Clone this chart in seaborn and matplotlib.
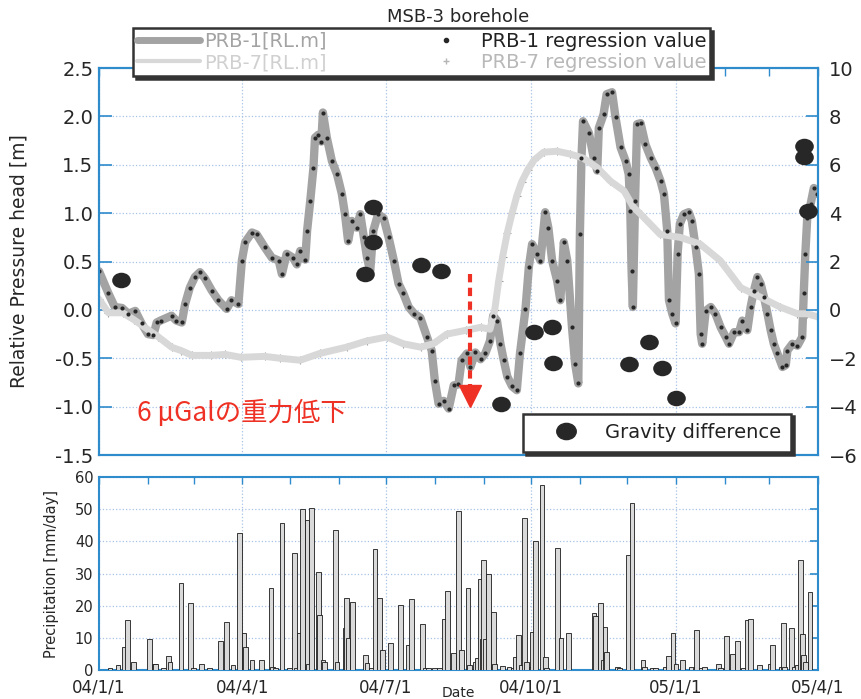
import numpy as np
import pandas as pd
import matplotlib
matplotlib.use("Agg")
import matplotlib.pyplot as plt
import matplotlib.dates as mdates
from matplotlib.lines import Line2D
from matplotlib.path import Path
from matplotlib.ticker import FuncFormatter
import seaborn as sns

START = pd.Timestamp("2004-01-01")
END = pd.Timestamp("2005-04-01")

# PRB-1 pressure head [m], day offsets from 2004-01-01
prb1_day = [0, 6, 10, 14.6, 18.6, 23, 27, 31, 34.5, 36.6, 39, 46, 49, 52.5, 54.6, 57.6,
            60.8, 64, 67, 71.5, 75.7, 81, 84, 88.4, 90.6, 92.7, 97, 100, 105, 109.6, 114,
            116, 119, 123, 125.5, 127.6, 130.8, 132, 134, 136, 137, 139, 141, 142, 144.5,
            147.7, 151, 154, 156, 158, 160.4, 163.5, 165.7, 168, 170, 172, 174, 177, 180.5,
            183.7, 187, 190, 193, 196.4, 200, 203.8, 208, 211, 213, 215.4, 218.6, 221.8,
            225, 228, 230, 233.4, 235.6, 238.7, 242, 245, 248, 250, 252.4, 254.6, 256.7,
            259, 262, 265, 267, 270.5, 272.6, 274.7, 278, 280, 283, 285, 287.4, 290.6,
            292.6, 294.8, 297, 300, 302, 304, 305, 306, 307, 310.7, 313.8, 316, 317, 320,
            322, 325.4, 327.6, 330.8, 334, 336, 337, 337.8, 338.6, 340, 341.3, 343.5,
            346.6, 350, 353, 356.2, 358.3, 360.4, 361.5, 363.6, 365.7, 367, 368.4, 371,
            374, 376, 378.4, 380.5, 381.6, 382.6, 384.8, 388, 391, 394.3, 397.5, 399.6,
            402.8, 406, 408, 411.2, 413.3, 415.4, 417.6, 419.7, 421.8, 424, 426, 428,
            430.3, 433.5, 435.6, 436.6, 439.8, 443, 446, 447, 448, 449.2, 451.3, 453.4,
            455.6]
prb1_val = [0.40, 0.17, 0.03, 0.02, -0.04, -0.01, -0.14, -0.25, -0.26, -0.13, -0.11, -0.06,
            -0.11, -0.13, 0.06, 0.23, 0.34, 0.39, 0.33, 0.20, 0.10, 0.01, 0.10, 0.06, 0.51,
            0.70, 0.80, 0.78, 0.65, 0.54, 0.51, 0.37, 0.58, 0.54, 0.47, 0.61, 0.52, 0.82,
            1.13, 1.47, 1.78, 1.81, 1.74, 2.04, 1.78, 1.54, 1.40, 1.20, 0.99, 0.71, 0.92,
            0.85, 0.99, 0.75, 0.54, 0.40, 0.82, 0.99, 0.95, 0.75, 0.51, 0.27, 0.17, 0.03,
            -0.04, -0.08, -0.28, -0.42, -0.73, -0.97, -0.94, -1.02, -0.78, -0.77, -0.52,
            -0.45, -0.59, -0.44, -0.51, -0.45, -0.32, -0.06, -0.11, -0.35, -0.52, -0.69,
            -0.79, -0.83, -0.45, 0.01, 0.44, 0.68, 0.58, 0.51, 1.01, 0.85, 0.51, 0.30, 0.10,
            0.70, 0.51, -0.18, -0.56, -0.76, 0.78, 1.57, 1.95, 1.83, 1.57, 1.44, 1.88, 2.02,
            2.23, 2.25, 1.99, 1.68, 1.54, 1.40, 1.02, 0.40, 0.03, 1.13, 1.92, 1.93, 1.71,
            1.57, 1.47, 1.33, 1.20, 0.82, 0.10, -0.04, -0.14, 0.58, 0.89, 0.99, 1.01, 0.92,
            0.65, 0.37, -0.25, -0.35, -0.01, 0.03, -0.04, -0.18, -0.28, -0.35, -0.23, -0.23,
            -0.11, -0.21, 0.03, 0.20, 0.34, 0.27, 0.13, -0.04, -0.21, -0.35, -0.45, -0.59,
            -0.57, -0.42, -0.35, -0.37, -0.28, 0.17, 0.58, 0.95, 1.09, 1.26, 1.20]

# PRB-7 pressure head [m]
prb7_day = [0, 6, 15, 22, 29, 37.7, 46, 52, 59, 71, 80, 90, 105, 115, 127.6, 140, 157, 170,
            182.6, 193, 204, 212, 220.6, 233, 242, 248, 251, 253.5, 256, 259, 262, 265, 268,
            272, 276, 282, 290.6, 299, 307, 316, 324.4, 333, 339, 343.5, 356, 368.6, 381.3,
            394, 407, 419.7, 432, 443, 449, 455.6]
prb7_val = [0.11, -0.03, -0.03, -0.10, -0.18, -0.28, -0.385, -0.42, -0.47, -0.47, -0.46,
            -0.49, -0.48, -0.50, -0.52, -0.45, -0.385, -0.32, -0.28, -0.35, -0.385, -0.35,
            -0.25, -0.21, -0.18, -0.20, 0.0, 0.30, 0.55, 0.80, 1.00, 1.18, 1.32, 1.45, 1.55,
            1.63, 1.64, 1.61, 1.57, 1.47, 1.33, 1.23, 1.06, 0.99, 0.78, 0.75, 0.68, 0.51,
            0.23, 0.13, 0.03, -0.04, -0.04, -0.07]

# gravity difference [uGal], right axis
grav_day = [14, 169, 174, 174, 204, 217, 255, 276, 287, 288, 336, 349, 357, 366, 447, 447, 450]
grav_val = [1.25, 1.48, 4.27, 2.79, 1.87, 1.59, -3.88, -0.92, -0.72, -2.2, -2.23, -1.34,
            -2.39, -3.63, 6.78, 6.32, 4.09]

# daily precipitation [mm/day]
rain_day = [7, 12, 16, 18, 22, 32, 35, 36, 41, 44, 45, 52, 58, 60, 65, 70, 77, 81, 85, 89,
            92, 93, 97, 103, 109, 110, 112, 116, 121, 124, 125, 127, 129, 132, 133, 135, 139,
            140, 142, 143, 150, 151, 156, 157, 158, 161, 169, 170, 173, 175, 178, 180, 185,
            191, 196, 198, 205, 207, 209, 213, 216, 219, 221, 225, 228, 230, 234, 235, 239,
            240, 242, 243, 244, 245, 247, 250, 251, 256, 260, 263, 264, 266, 268, 270, 271,
            274, 275, 277, 281, 283, 284, 291, 293, 298, 314, 315, 318, 320, 321, 322, 329,
            330, 336, 338, 345, 346, 351, 353, 359, 361, 364, 366, 370, 376, 378, 379, 382,
            384, 393, 394, 398, 402, 405, 409, 411, 413, 419, 426, 427, 433, 434, 435, 439,
            441, 443, 445, 446, 447, 448, 451]
rain_mm = [0.5, 1.5, 7.2, 15.7, 2.6, 9.5, 2.0, 2.0, 0.5, 4.3, 2.6, 27.1, 20.7, 0.5, 2.0, 0.5,
           9.0, 15.0, 1.5, 42.6, 11.4, 7.2, 3.1, 3.1, 25.5, 0.8, 0.5, 45.8, 0.5, 36.5, 0.5,
           11.4, 50.0, 46.5, 2.0, 50.5, 30.5, 17.0, 3.0, 2.5, 43.6, 2.5, 13.0, 22.5, 10.0,
           21.0, 4.6, 2.2, 0.5, 37.7, 22.5, 6.2, 8.5, 20.2, 7.7, 22.2, 14.3, 0.5, 0.5, 0.5,
           0.5, 15.8, 24.5, 5.4, 49.5, 6.2, 25.6, 1.5, 2.6, 3.6, 28.4, 9.5, 34.1, 9.5, 30.0,
           18.1, 1.9, 1.3, 0.8, 0.5, 4.1, 11.0, 1.5, 47.4, 2.6, 1.0, 11.9, 40.0, 57.6, 4.1,
           0.5, 38.0, 9.8, 11.4, 17.6, 16.8, 20.9, 3.1, 13.4, 5.5, 0.8, 0.5, 35.7, 52.0, 3.1,
           0.8, 0.5, 0.5, 0.8, 4.5, 11.6, 2.0, 3.1, 0.8, 0.5, 12.4, 0.5, 0.8, 2.0, 0.5, 10.5,
           5.0, 9.0, 0.5, 15.7, 16.0, 1.5, 1.9, 7.8, 0.8, 14.5, 0.8, 13.0, 0.8, 1.5, 34.1,
           11.2, 4.7, 2.5, 24.3]

quarter_ticks = pd.to_datetime(["2004-01-01", "2004-04-01", "2004-07-01",
                                "2004-10-01", "2005-01-01", "2005-04-01"])
head_ticks = [-1.5, -1.0, -0.5, 0.0, 0.5, 1.0, 1.5, 2.0, 2.5]
grav_ticks = [-6, -4, -2, 0, 2, 4, 6, 8, 10]
rain_ticks = [0, 10, 20, 30, 40, 50, 60]

# annotation: gravity drop arrow (day, head value)
ARROW_DAY, ARROW_TOP, ARROW_BASE, ARROW_TIP = 235.5, 0.37, -0.80, -0.89
NOTE_DAY, NOTE_VAL = 24, -1.07

SPINE = "#2e8bcc"
GRID = "#a8c2e6"
PRB1_C = "#a3a3a3"
PRB7_C = "#d8d8d8"
DOT = "#272727"
RED = "#ee3124"


def to_date(days):
    return START + pd.to_timedelta(np.asarray(days, dtype=float), unit="D")


def style_axes(a):
    for s in a.spines.values():
        s.set_color(SPINE)
        s.set_linewidth(1.5)


sns.set_theme(style="white")
plt.rcParams["font.family"] = ["DejaVu Sans"]

fig = plt.figure(figsize=(8.61, 6.99), dpi=100)
ax = fig.add_axes([0.115, 0.349, 0.835, 0.5537])
axb = fig.add_axes([0.115, 0.0415, 0.835, 0.276])

# --- top panel: pressure head
d1, d7 = to_date(prb1_day), to_date(prb7_day)
sns.lineplot(x=d1, y=prb1_val, ax=ax, color=PRB1_C, lw=6, estimator=None, sort=False)
sns.lineplot(x=d7, y=prb7_val, ax=ax, color=PRB7_C, lw=5, estimator=None, sort=False)
sns.scatterplot(x=d7, y=prb7_val, ax=ax, marker="+", color="#999999", s=28, linewidth=0.8)
sns.scatterplot(x=d1, y=prb1_val, ax=ax, color=DOT, s=9, linewidth=0, zorder=4)

ax.set_xlim(START, END)
ax.set_ylim(-1.5, 2.5)
ax.set_yticks(head_ticks)
ax.set_yticklabels([f"{t:.1f}" for t in head_ticks])
ax.set_xticks(quarter_ticks)
ax.xaxis.set_minor_locator(mdates.MonthLocator())
ax.tick_params(axis="x", which="both", direction="in", color=SPINE, top=True,
               labelbottom=False, length=6, width=1)
ax.tick_params(axis="y", direction="in", color=SPINE, length=9, width=1.2,
               labelsize=14, pad=4)
ax.grid(True, which="major", ls=":", color=GRID, lw=0.9)
ax.set_xlabel("")
ax.set_ylabel("Relative Pressure head [m]", fontsize=13.5, labelpad=19)
style_axes(ax)

# red note + dashed arrow
ax.plot([to_date([ARROW_DAY])[0]] * 2, [ARROW_TOP, ARROW_BASE], color=RED, lw=3,
        dashes=(2, 1.3), zorder=5)
ax.plot(to_date([ARROW_DAY]), [ARROW_TIP], marker="v", ms=16, color=RED, ls="", zorder=5)
ax.text(to_date([NOTE_DAY])[0], NOTE_VAL, "6 μGalの重力低下", color=RED, fontsize=19,
        va="center", ha="left", family=["Noto Sans CJK JP", "DejaVu Sans"])
ax.set_title("MSB-3 borehole", fontsize=13, pad=33)

# gravity difference, right axis
ax2 = ax.twinx()
circ = Path.unit_circle()
ellipse = Path(circ.vertices * np.array([1.2, 1.0]), circ.codes)
sns.scatterplot(x=to_date(grav_day), y=grav_val, ax=ax2, marker=ellipse, s=180,
                color=DOT, linewidth=0, zorder=6)
ax2.set_ylim(-6, 10)
ax2.set_yticks(grav_ticks)
ax2.tick_params(axis="y", direction="in", color=SPINE, length=9, width=1.2,
                labelsize=14, pad=8)
ax2.set_ylabel("")
ax2.grid(False)
style_axes(ax2)

# --- bottom panel: precipitation
axb.bar(to_date(rain_day), rain_mm, width=3.0, color="#d9d9d9", edgecolor="#1a1a1a",
        linewidth=0.6, zorder=3)
axb.set_xlim(START, END)
axb.set_ylim(0, 60)
axb.set_yticks(rain_ticks)
axb.set_xticks(quarter_ticks)
axb.xaxis.set_minor_locator(mdates.MonthLocator())
axb.xaxis.set_major_formatter(FuncFormatter(
    lambda v, _: (lambda d: f"{d.year % 100:02d}/{d.month}/{d.day}")(mdates.num2date(v))))
axb.tick_params(axis="x", which="both", direction="in", color=SPINE, top=True,
                length=5, width=1, labelsize=12, pad=6)
axb.tick_params(axis="y", direction="in", color=SPINE, length=6, width=1.2,
                labelsize=10.5, pad=4, right=True)
axb.grid(True, which="major", ls=":", color=GRID, lw=0.9)
axb.set_xlabel("Date", fontsize=10)
axb.xaxis.set_label_coords(0.5, -0.085)
axb.set_ylabel("Precipitation [mm/day]", fontsize=10.5, labelpad=11)
style_axes(axb)

# --- legends
h_p1 = Line2D([], [], color=PRB1_C, lw=5)
h_p7 = Line2D([], [], color=PRB7_C, lw=3)
h_r1 = Line2D([], [], ls="", marker="o", ms=3, color=DOT)
h_r7 = Line2D([], [], ls="", marker="+", ms=5, color="#b5b5b5")
leg = fig.legend([h_p1, h_p7, h_r1, h_r7],
                 ["PRB-1[RL.m]", "PRB-7[RL.m]", "PRB-1 regression value",
                  "PRB-7 regression value"],
                 ncol=2, loc="upper left", bbox_to_anchor=(133 / 861, 1 - 28 / 699),
                 fontsize=14, fancybox=False, framealpha=1, edgecolor="#333333",
                 shadow={"color": "#333333", "alpha": 1}, handlelength=3.25,
                 columnspacing=4.5, labelspacing=0.12, borderpad=0.2, handletextpad=0.2,
                 borderaxespad=0)
leg.get_frame().set_linewidth(1.8)
for t, c in zip(leg.get_texts(), ["#a3a3a3", "#d0d0d0", "#222222", "#b8b8b8"]):
    t.set_color(c)

h_g = Line2D([], [], ls="", marker=ellipse, ms=14, color=DOT)
leg2 = fig.legend([h_g], ["Gravity difference"], loc="lower right",
                  bbox_to_anchor=(791 / 861, 1 - 452 / 699), fontsize=14, fancybox=False,
                  framealpha=1, edgecolor="#333333",
                  shadow={"color": "#333333", "alpha": 1}, handlelength=3.4,
                  handletextpad=0.3, borderpad=0.5, borderaxespad=0)
leg2.get_frame().set_linewidth(1.8)
leg2.get_texts()[0].set_color("#222222")

fig.savefig("out.png", dpi=100)
